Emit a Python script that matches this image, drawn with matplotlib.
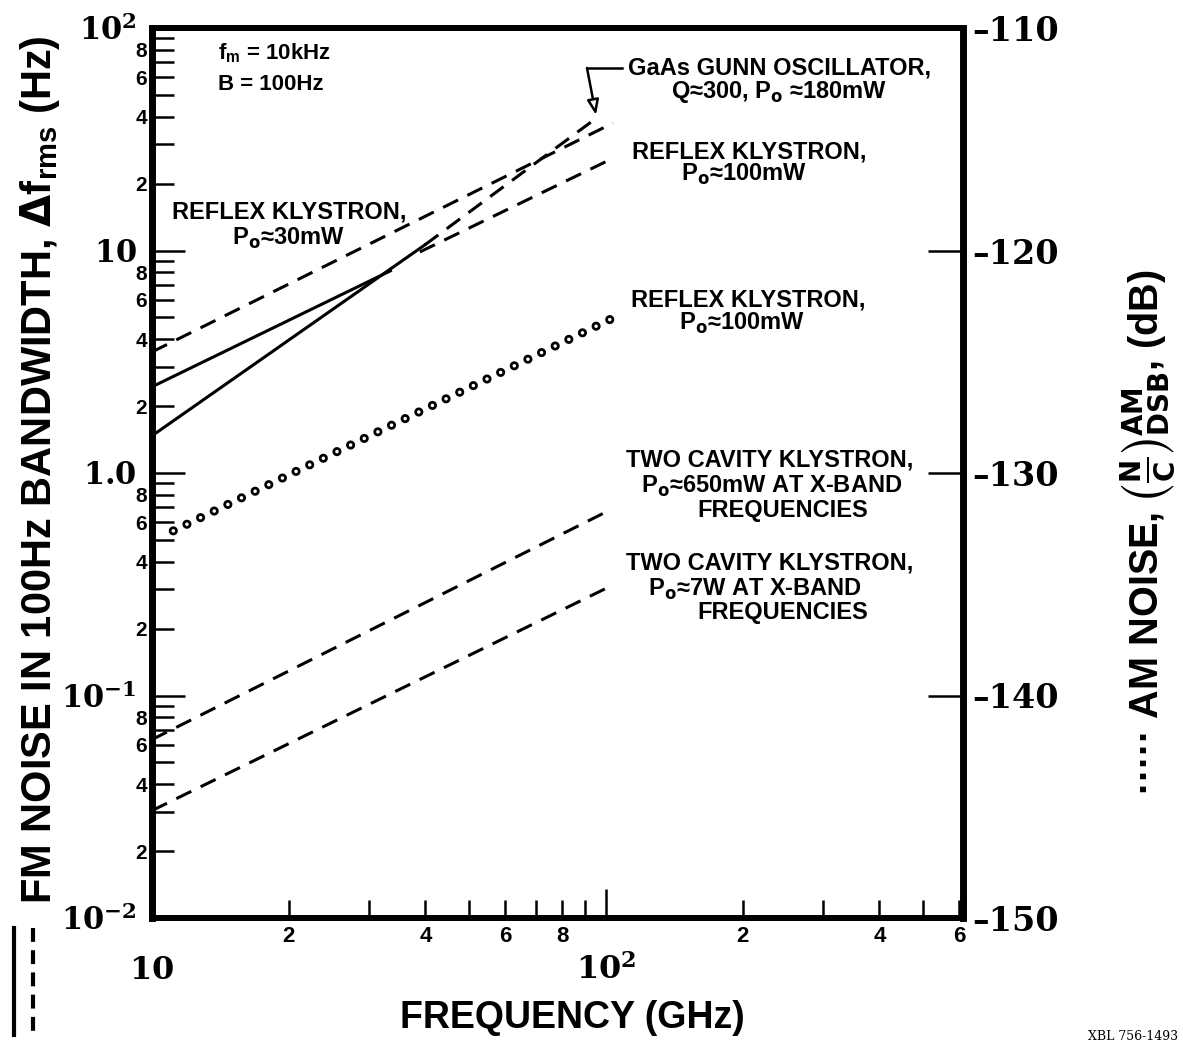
import matplotlib
matplotlib.use('Agg')
import matplotlib.pyplot as plt
from matplotlib.lines import Line2D

W, H = 1183, 1048
plt.rcParams['font.family'] = ['Liberation Sans', 'DejaVu Sans']
plt.rcParams['font.weight'] = 'bold'
plt.rcParams['mathtext.fontset'] = 'dejavusans'
plt.rcParams['mathtext.default'] = 'bf'
plt.rcParams['lines.scale_dashes'] = False

# ---------------- data ----------------
# GaAs Gunn oscillator: measured (solid) and extrapolated (dashed)
gunn_f_solid = [10, 39.9]
gunn_fm_solid = [1.47, 10.6]
gunn_f_dash = [39.9, 95.9]
gunn_fm_dash = [10.6, 39.8]

# Reflex klystron Po~100mW FM: solid then dashed
rk100_f_solid = [10, 33.5]
rk100_fm_solid = [2.44, 8.1]
rk100_f_dash = [38.9, 103.6]
rk100_fm_dash = [9.85, 26.0]

# Reflex klystron Po~30mW FM (dashed)
rk30_f = [10, 103.6]
rk30_fm = [3.5, 37.4]

# Reflex klystron Po~100mW AM noise (dotted, right axis, dB)
am_f = [11.14, 102.0]
am_db = [-132.6, -123.1]

# Two cavity klystrons (dashed)
tc650_f = [10, 102]
tc650_fm = [0.0634, 0.682]
tc7_f = [10, 103.6]
tc7_fm = [0.0304, 0.314]

x_major = [10, 100]
x_major_labels = [r'$\mathbf{10}$', r'$\mathbf{10^{2}}$']
x_minor = [20, 30, 40, 50, 60, 70, 80, 90, 200, 300, 400, 500, 600]
x_minor_labels = ['2', '', '4', '', '6', '', '8', '', '2', '', '4', '', '6']
y_major = [0.01, 0.1, 1, 10, 100]
y_major_labels = [r'$\mathbf{10^{-2}}$', r'$\mathbf{10^{-1}}$', r'$\mathbf{1.0}$',
                  r'$\mathbf{10}$', r'$\mathbf{10^{2}}$']
y_minor = [m * 10.0 ** e for e in (-2, -1, 0, 1) for m in range(2, 10)]
y_minor_labels = [str(m) if m % 2 == 0 else '' for e in (-2, -1, 0, 1) for m in range(2, 10)]
db_ticks = [-150, -140, -130, -120, -110]
db_labels = ['\u2013150', '\u2013140', '\u2013130', '\u2013120', '\u2013110']

# ---------------- figure ----------------
fig = plt.figure(figsize=(W / 100, H / 100), dpi=100)
L, R, T, B = 152, 963, 28, 918
ax = fig.add_axes([L / W, 1 - B / H, (R - L) / W, (B - T) / H])
ax.set_xscale('log')
ax.set_yscale('log')
ax.set_xlim(10, 611)
ax.set_ylim(0.01, 100)

ax2 = ax.twinx()
ax2.set_ylim(-150, -110)

LW = 2.2
DASH = (0, (12, 7.5))
k = dict(color='black', lw=LW)
ax.plot(gunn_f_solid, gunn_fm_solid, **k)
ax.plot(gunn_f_dash, gunn_fm_dash, linestyle=DASH, dash_capstyle='butt', **k)
ax.plot(rk100_f_solid, rk100_fm_solid, **k)
ax.plot(rk100_f_dash, rk100_fm_dash, linestyle=DASH, dash_capstyle='butt', **k)
ax.plot(rk30_f, rk30_fm, linestyle=DASH, dash_capstyle='butt', **k)
ax.plot(tc650_f, tc650_fm, linestyle=DASH, dash_capstyle='butt', **k)
ax.plot(tc7_f, tc7_fm, linestyle=DASH, dash_capstyle='butt', **k)

# open-circle dotted AM line
DOT = (0, (0.01, 10.9))
ax2.plot(am_f, am_db, color='black', lw=6.6, linestyle=DOT, dash_capstyle='round')
ax2.plot(am_f, am_db, color='white', lw=2.6, linestyle=DOT, dash_capstyle='round')

# spines
for a in (ax, ax2):
    for s in ('left', 'right'):
        a.spines[s].set_linewidth(4.8)
    for s in ('top', 'bottom'):
        a.spines[s].set_linewidth(4.2)

# x ticks
ax.tick_params(axis='x', which='major', direction='in', length=21, width=1.8,
               pad=44, top=False, labelsize=23)
ax.tick_params(axis='x', which='minor', direction='in', length=13, width=1.8,
               pad=6, top=False, labelsize=16)
ax.set_xticks(x_major)
ax.set_xticklabels(x_major_labels, math_fontfamily='dejavuserif', va='baseline')
ax.set_xticks(x_minor, minor=True)
ax.set_xticklabels(x_minor_labels, minor=True)

# left y ticks
ax.tick_params(axis='y', which='major', direction='in', length=24, width=1.8,
               pad=11, right=False, labelsize=22)
ax.tick_params(axis='y', which='minor', direction='in', length=16, width=1.8,
               pad=3.5, right=False, labelsize=15)
ax.set_yticks(y_major)
ax.set_yticklabels(y_major_labels, math_fontfamily='dejavuserif')
ax.set_yticks(y_minor, minor=True)
ax.set_yticklabels(y_minor_labels, minor=True)

# right y ticks
ax2.tick_params(axis='y', which='major', direction='in', length=25, width=1.8,
                pad=7, labelsize=24, labelfontfamily='DejaVu Serif')
ax2.set_yticks(db_ticks)
ax2.set_yticklabels(db_labels)
ax2.tick_params(axis='y', which='minor', right=False, left=False)


def px(x, y):
    return (x / W, 1 - y / H)


def ftxt(x, y, s, size=17, ha='center', va='center', **kw):
    fig.text(*px(x, y), s, fontsize=size, ha=ha, va=va, **kw)


# annotations
ftxt(218, 53, r'$\mathregular{f_m}$ = 10kHz', size=16, ha='left')
ftxt(218, 85, 'B = 100Hz', size=16, ha='left')

ftxt(780, 68, 'GaAs GUNN OSCILLATOR,')
ftxt(779, 92, r'Q≈300, P$_{o}$ ≈180mW')
ftxt(749, 152, 'REFLEX KLYSTRON,')
ftxt(744, 174, r'P$_{o}$≈100mW')
ftxt(289, 212, 'REFLEX KLYSTRON,')
ftxt(288, 238, r'P$_{o}$≈30mW')
ftxt(748, 300, 'REFLEX KLYSTRON,')
ftxt(742, 323, r'P$_{o}$≈100mW')
ftxt(770, 460, 'TWO CAVITY KLYSTRON,')
ftxt(772, 486, r'P$_{o}$≈650mW AT X-BAND')
ftxt(783, 510, 'FREQUENCIES')
ftxt(770, 563, 'TWO CAVITY KLYSTRON,')
ftxt(755, 589, r'P$_{o}$≈7W AT X-BAND')
ftxt(783, 612, 'FREQUENCIES')

# arrow to GaAs line
fig.add_artist(Line2D([587 / W, 622 / W], [1 - 68 / H, 1 - 68 / H], color='black', lw=1.8))
ax.annotate('', xy=px(596, 115), xytext=px(587, 68), xycoords='figure fraction',
            textcoords='figure fraction',
            arrowprops=dict(arrowstyle='-|>,head_length=0.9,head_width=0.35',
                            fc='white', ec='black', lw=1.8, shrinkA=0, shrinkB=0))

# axis labels
ftxt(572, 1018, 'FREQUENCY (GHz)', size=27)
ftxt(40, 470, r'FM NOISE IN 100Hz BANDWIDTH, $\Delta \mathregular{f}_{\mathregular{rms}}$ (Hz)',
     size=30, rotation=90)
ftxt(1148, 532, '\u00b7\u00b7\u00b7\u00b7\u00b7 AM NOISE, ' + r'$\left(\frac{N}{C}\right)^{AM}_{DSB}$, (dB)',
     size=28.5, rotation=90)

# legend line symbols at bottom left
fig.add_artist(Line2D([14 / W, 14 / W], [1 - 928 / H, 1 - 1035 / H], color='black', lw=3))
fig.add_artist(Line2D([33 / W, 33 / W], [1 - 928 / H, 1 - 1035 / H], color='black', lw=3,
                      linestyle=(0, (10, 6))))

ftxt(1133, 1036, 'XBL 756-1493', size=9, family='DejaVu Serif', weight='normal')

fig.savefig('out.png', dpi=100)
